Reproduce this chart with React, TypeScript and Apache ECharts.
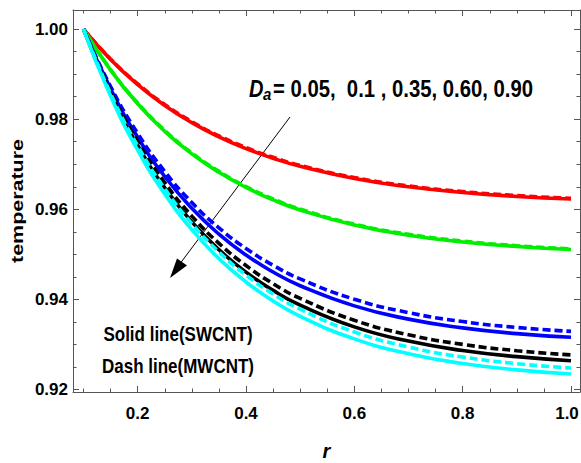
import React, { useEffect, useRef } from "react";
import * as echarts from "echarts";

// ---- data ----
const rValues = [0.1, 0.15, 0.2, 0.25, 0.3, 0.35, 0.4, 0.45, 0.5, 0.6, 0.7, 0.8, 0.9, 1.0];

const redSolid = [1.0, 0.99325, 0.98767, 0.98305, 0.97924, 0.97608, 0.97347, 0.97132, 0.96953, 0.96683, 0.96499, 0.96373, 0.96286, 0.96228];
const redDash = [1.0, 0.99335, 0.98785, 0.98325, 0.97945, 0.9763, 0.9737, 0.97155, 0.96975, 0.96705, 0.9652, 0.96393, 0.96305, 0.96245];
const greenSolid = [1.0, 0.99088, 0.98342, 0.9773, 0.9723, 0.96821, 0.96485, 0.9621, 0.95986, 0.95651, 0.95426, 0.95276, 0.95175, 0.95107];
const greenDash = [1.0, 0.99098, 0.9836, 0.9775, 0.9725, 0.96842, 0.96506, 0.96231, 0.96006, 0.9567, 0.95445, 0.95294, 0.95192, 0.95124];
const blueSolid = [1.0, 0.98674, 0.97599, 0.96728, 0.96022, 0.95449, 0.94986, 0.94609, 0.94305, 0.93858, 0.93564, 0.9337, 0.93243, 0.9316];
const blueDash = [1.0, 0.98724, 0.97686, 0.96839, 0.9615, 0.95589, 0.95131, 0.94758, 0.94455, 0.94005, 0.93708, 0.9351, 0.93379, 0.93292];
const blackSolid = [1.0, 0.98574, 0.97417, 0.9648, 0.95721, 0.95105, 0.94606, 0.94201, 0.93874, 0.93392, 0.93076, 0.92868, 0.92731, 0.92642];
const blackDash = [1.0, 0.98625, 0.97506, 0.96593, 0.9585, 0.95245, 0.94752, 0.9435, 0.94023, 0.93538, 0.93217, 0.93004, 0.92863, 0.92769];
const cyanSolid = [1.0, 0.98516, 0.97313, 0.96338, 0.95548, 0.94907, 0.94388, 0.93967, 0.93626, 0.93126, 0.92797, 0.9258, 0.92438, 0.92345];
const cyanDash = [1.0, 0.9857, 0.97406, 0.96456, 0.95683, 0.95054, 0.94541, 0.94123, 0.93783, 0.93279, 0.92945, 0.92723, 0.92576, 0.92479];

const xMajorTicks = [0.2, 0.4, 0.6, 0.8, 1.0];
const xMinorTicks = [0.1, 0.15, 0.25, 0.3, 0.35, 0.45, 0.5, 0.55, 0.65, 0.7, 0.75, 0.85, 0.9, 0.95];
const yMajorTicks = [0.92, 0.94, 0.96, 0.98, 1.0];
const yMinorTicks = [0.925, 0.93, 0.935, 0.945, 0.95, 0.955, 0.965, 0.97, 0.975, 0.985, 0.99, 0.995];

const daLabel = "= 0.05,  0.1 , 0.35, 0.60, 0.90";
const solidNote = "Solid line(SWCNT)";
const dashNote = "Dash line(MWCNT)";

const X_MIN = 0.0806;
const X_MAX = 1.0166;
const Y_MIN = 0.91947;
const Y_MAX = 1.00422;

const FONT = "'Liberation Sans', Arial, sans-serif";
const AXIS_COLOR = "#555";

const lineDefs = [
  { name: "Da=0.05 SWCNT", data: redSolid, color: "#ff0000", dashed: false },
  { name: "Da=0.05 MWCNT", data: redDash, color: "#ff0000", dashed: true },
  { name: "Da=0.1 SWCNT", data: greenSolid, color: "#00ee00", dashed: false },
  { name: "Da=0.1 MWCNT", data: greenDash, color: "#00ee00", dashed: true },
  { name: "Da=0.35 SWCNT", data: blueSolid, color: "#0000ff", dashed: false },
  { name: "Da=0.35 MWCNT", data: blueDash, color: "#0000ff", dashed: true },
  { name: "Da=0.60 SWCNT", data: blackSolid, color: "#000000", dashed: false },
  { name: "Da=0.60 MWCNT", data: blackDash, color: "#000000", dashed: true },
  { name: "Da=0.90 SWCNT", data: cyanSolid, color: "#00ffff", dashed: false },
  { name: "Da=0.90 MWCNT", data: cyanDash, color: "#00ffff", dashed: true },
];

const labelTextStyle = { fontWeight: "bold", fontSize: 17, fontFamily: FONT, color: "#000" };

function xAxisDef(position: "top" | "bottom", ticks: number[], len: number, showLine: boolean, labels: boolean, withName: boolean) {
  return {
    type: "value",
    position,
    min: X_MIN,
    max: X_MAX,
    splitLine: { show: false },
    axisLine: { show: showLine, onZero: false, lineStyle: { color: AXIS_COLOR, width: 1 } },
    axisTick: { show: true, inside: true, length: len, customValues: ticks, lineStyle: { color: AXIS_COLOR, width: 1 } },
    axisLabel: labels
      ? {
          show: true,
          customValues: xMajorTicks,
          formatter: (v: number) => (v >= 0.999 ? "{edge|" + v.toFixed(1) + "}" : "{n|" + v.toFixed(1) + "}"),
          ...labelTextStyle,
          margin: 13,
          rich: {
            n: { ...labelTextStyle },
            edge: { ...labelTextStyle, padding: [0, 8, 0, 0] },
          },
        }
      : { show: false },
    name: withName ? "r" : "",
    nameLocation: "middle",
    nameGap: 49,
    nameTextStyle: { fontStyle: "italic", fontWeight: "bold", fontSize: 20, fontFamily: FONT, color: "#000" },
  };
}

function yAxisDef(position: "left" | "right", ticks: number[], len: number, showLine: boolean, labels: boolean) {
  return {
    type: "value",
    position,
    min: Y_MIN,
    max: Y_MAX,
    splitLine: { show: false },
    axisLine: { show: showLine, onZero: false, lineStyle: { color: AXIS_COLOR, width: 1 } },
    axisTick: { show: true, inside: true, length: len, customValues: ticks, lineStyle: { color: AXIS_COLOR, width: 1 } },
    axisLabel: labels
      ? {
          show: true,
          customValues: yMajorTicks,
          formatter: (v: number) => v.toFixed(2),
          ...labelTextStyle,
          margin: 5,
        }
      : { show: false },
  };
}

export default function App() {
  const ref = useRef<HTMLDivElement>(null);

  useEffect(() => {
    document.body.style.margin = "0";
    if (!ref.current) return;
    const chart = echarts.init(ref.current, undefined, { renderer: "svg" });

    const series = lineDefs.map((d) => ({
      name: d.name,
      type: "line",
      xAxisIndex: 0,
      yAxisIndex: 0,
      smooth: true,
      showSymbol: false,
      symbol: "none",
      data: rValues.map((r, i) => [r, d.data[i]]),
      lineStyle: { color: d.color, width: 3.6, type: d.dashed ? [8, 4] : "solid" },
      itemStyle: { color: d.color },
    }));

    const option = {
      animation: false,
      backgroundColor: "#fff",
      grid: { left: 73, right: 1, top: 10, bottom: 71, containLabel: false, outerBoundsMode: "none" },
      xAxis: [
        xAxisDef("bottom", xMajorTicks, 6, true, true, true),
        xAxisDef("bottom", xMinorTicks, 3.5, false, false, false),
        xAxisDef("top", xMajorTicks, 6, true, false, false),
        xAxisDef("top", xMinorTicks, 3.5, false, false, false),
      ],
      yAxis: [
        yAxisDef("left", yMajorTicks, 6, true, true),
        yAxisDef("left", yMinorTicks, 3.5, false, false),
        yAxisDef("right", yMajorTicks, 6, true, false),
        yAxisDef("right", yMinorTicks, 3.5, false, false),
      ],
      series,
      graphic: [
        {
          type: "text",
          x: 17,
          y: 201,
          rotation: Math.PI / 2,
          scaleX: 1.3,
          style: {
            text: "temperature",
            fontSize: 16.5,
            fontWeight: "bold",
            fontFamily: FONT,
            fill: "#000",
            align: "center",
            verticalAlign: "middle",
          },
        },
        {
          type: "text",
          x: 249,
          y: 89,
          scaleY: 1.2,
          style: { text: "D", fontSize: 20, fontWeight: "bold", fontStyle: "italic", fontFamily: FONT, fill: "#000", align: "left", verticalAlign: "middle" },
        },
        {
          type: "text",
          x: 263,
          y: 94,
          scaleY: 1.1,
          style: { text: "a", fontSize: 15, fontWeight: "bold", fontStyle: "italic", fontFamily: FONT, fill: "#000", align: "left", verticalAlign: "middle" },
        },
        {
          type: "text",
          x: 273,
          y: 89,
          scaleY: 1.2,
          style: { text: daLabel, fontSize: 20.3, fontWeight: "bold", fontFamily: FONT, fill: "#000", align: "left", verticalAlign: "middle" },
        },
        {
          type: "line",
          shape: { x1: 290, y1: 117, x2: 179, y2: 265 },
          style: { stroke: "#000", lineWidth: 1 },
        },
        {
          type: "polygon",
          shape: { points: [[170, 278], [187, 265.5], [177, 258.5]] },
          style: { fill: "#000" },
        },
        {
          type: "text",
          x: 178,
          y: 334,
          scaleY: 1.2,
          style: { text: solidNote, fontSize: 17, fontWeight: "bold", fontFamily: FONT, fill: "#000", align: "center", verticalAlign: "middle" },
        },
        {
          type: "text",
          x: 178,
          y: 366,
          scaleY: 1.2,
          style: { text: dashNote, fontSize: 17, fontWeight: "bold", fontFamily: FONT, fill: "#000", align: "center", verticalAlign: "middle" },
        },
      ],
    };

    chart.setOption(option as any);
    return () => chart.dispose();
  }, []);

  return <div ref={ref} style={{ width: 581, height: 463 }} />;
}
